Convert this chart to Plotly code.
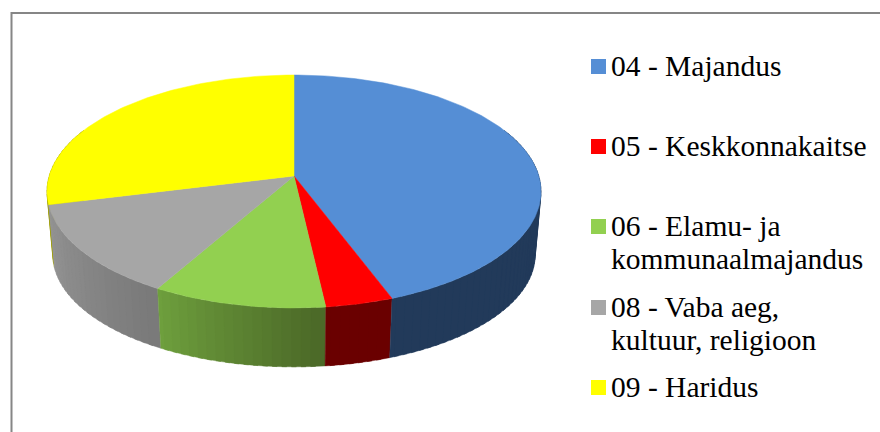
import math
import plotly.graph_objects as go

# --- data ---
categories = ["04 - Majandus", "05 - Keskkonnakaitse", "06 - Elamu- ja kommunaalmajandus",
              "08 - Vaba aeg, kultuur, religioon", "09 - Haridus"]
legend_lines = [["04 - Majandus"], ["05 - Keskkonnakaitse"],
                ["06 - Elamu- ja", "kommunaalmajandus"],
                ["08 - Vaba aeg,", "kultuur, religioon"], ["09 - Haridus"]]
values = [44.3, 3.9, 10.0, 12.9, 28.9]
top_colors = ["#558ed5", "#ff0000", "#92d050", "#a6a6a6", "#ffff00"]
wall_colors = [("#223a5a", "#223a5a"), ("#6a0000", "#6a0000"), ("#4c6a28", "#6e9f3d"),
               ("#7a7a7a", "#959595"), ("#a0a000", "#a0a000")]

# --- projection of the pie disc ---
CX, P = 294.0, 0.133
TOP = dict(cy=176.0, a=244.8, b=114.4)
BOT = dict(cy=240.0, a=239.0, b=110.0)


def proj(theta_deg, plane, r=1.0):
    t = math.radians(theta_deg)
    X, Y = r * math.sin(t), r * math.cos(t)
    w = 1 + P * Y
    return CX + plane["a"] * X / w, plane["cy"] - plane["b"] * Y / w


def mix(c1, c2, f):
    a = [int(c1[i:i + 2], 16) for i in (1, 3, 5)]
    b = [int(c2[i:i + 2], 16) for i in (1, 3, 5)]
    return "#%02x%02x%02x" % tuple(round(a[i] + (b[i] - a[i]) * f) for i in range(3))


fig = go.Figure()
total = sum(values)
edges = [0.0]
for v in values:
    edges.append(edges[-1] + 360.0 * v / total)


def add_poly(xs, ys, color, lw=0.0):
    fig.add_trace(go.Scatter(x=xs, y=ys, mode="lines", fill="toself", fillcolor=color,
                             line=dict(color=color, width=lw), hoverinfo="skip", showlegend=False))


def add_wall(s0, s1, color):
    n = max(2, int((s1 - s0) / 1.0))
    angs = [s0 + (s1 - s0) * k / n for k in range(n + 1)]
    up = [proj(a, TOP) for a in angs]
    dn = [proj(a, BOT) for a in reversed(angs)]
    pts = up + dn + [up[0]]
    add_poly([q[0] for q in pts], [q[1] for q in pts], color, 0.4)


# side wall: built from overlapping strips so that the outline follows the extruded silhouette
LIMIT0, LIMIT1 = 65.0, 295.0
for i in [4, 3, 2, 1, 0]:
    a0, a1 = max(edges[i], LIMIT0), min(edges[i + 1], LIMIT1)
    c0, c1 = wall_colors[i]
    n = max(1, int((a1 - a0) / 2.0))
    for k in range(n - 1, -1, -1):
        s0 = a0 + (a1 - a0) * k / n
        s1 = a0 + (a1 - a0) * (k + 1) / n
        add_wall(s0, min(a1, s1 + 1.0), mix(c0, c1, k / max(1, n - 1)))

# top face
for i in range(len(values)):
    a0, a1 = edges[i], edges[i + 1]
    n = max(4, int((a1 - a0) / 1.0))
    pts = [proj(a0 + (a1 - a0) * k / n, TOP) for k in range(n + 1)]
    add_poly([CX] + [q[0] for q in pts] + [CX], [TOP["cy"]] + [q[1] for q in pts] + [TOP["cy"]],
             top_colors[i], 0.5)

# legend
LEG_Y = [66.5, 146.5, 226.5, 307.5, 387.5]
LINE_H = 33
fig.add_trace(go.Scatter(x=[598.5] * 5, y=LEG_Y, mode="markers", hoverinfo="skip", showlegend=False,
                         marker=dict(symbol="square", size=15, color=top_colors, line=dict(width=0))))
annotations = []
for y0, lines in zip(LEG_Y, legend_lines):
    for j, line in enumerate(lines):
        annotations.append(dict(x=609, y=y0 - 1 + j * LINE_H, xref="x", yref="y", text=line, showarrow=False,
                                xanchor="left", yanchor="middle", align="left",
                                font=dict(family="Liberation Serif", size=29.5, color="#000000")))

frame = dict(color="#868686", width=2)
fig.update_layout(
    width=880, height=432, autosize=False,
    margin=dict(l=0, r=0, t=0, b=0), paper_bgcolor="#ffffff", plot_bgcolor="#ffffff",
    xaxis=dict(range=[0, 880], visible=False, fixedrange=True),
    yaxis=dict(range=[432, 0], visible=False, fixedrange=True),
    annotations=annotations,
    shapes=[dict(type="line", x0=11.5, x1=880, y0=13, y1=13, line=frame),
            dict(type="line", x0=11.5, x1=11.5, y0=12, y1=432, line=frame)],
)
fig.write_html("out.html", config=dict(displayModeBar=False),
               post_script="document.body.style.margin='0';document.body.style.overflow='hidden';")
